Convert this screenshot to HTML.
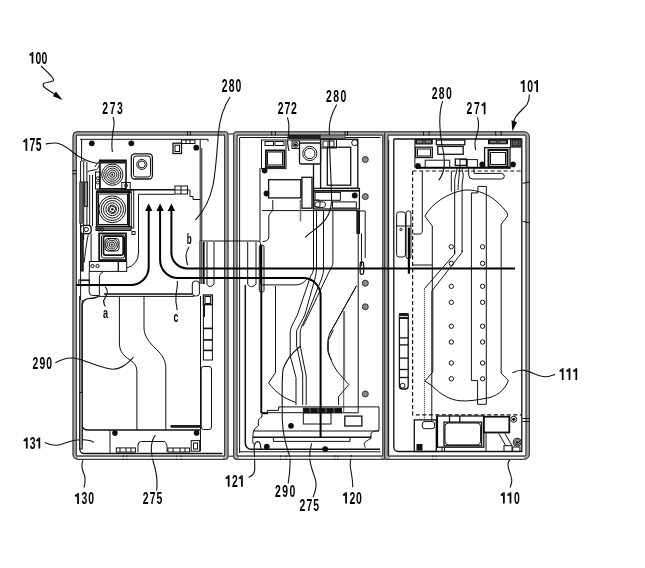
<!DOCTYPE html>
<html><head><meta charset="utf-8"><style>
html,body{margin:0;padding:0;background:#fff;}
svg{display:block;}
.t{fill:none;stroke:#111;stroke-width:1;}
.m{fill:none;stroke:#111;stroke-width:1.3;}
.k{fill:none;stroke:#000;stroke-width:2.4;}
.g{fill:none;stroke:#777;stroke-width:0.9;}
.ld{fill:none;stroke:#111;stroke-width:1.1;}
.dash{fill:none;stroke:#111;stroke-width:1.2;stroke-dasharray:4 2.5;}
.lb{font-family:"Liberation Sans",sans-serif;fill:#000;}
</style></head><body>
<svg width="645" height="568" viewBox="0 0 645 568" style="will-change:transform">
<rect width="645" height="568" fill="#fff"/>
<path d="M76.5,133.45000000000002 H226.0 A0.3500000000000001,0.3500000000000001 0 0 1 226.35,133.8 V457.3 A0.3500000000000001,0.3500000000000001 0 0 1 226.0,457.65000000000003 H77.5 A2.85,2.85 0 0 1 74.65,454.8 V135.3 A1.85,1.85 0 0 1 76.5,133.45000000000002 Z" fill="none" stroke="#ababab" stroke-width="4.3"/>
<path d="M77.0,131.8 H225.5 A2.5,2.5 0 0 1 228.0,134.3 V456.8 A2.5,2.5 0 0 1 225.5,459.3 H78.0 A5,5 0 0 1 73.0,454.3 V135.8 A4,4 0 0 1 77.0,131.8 Z" fill="none" stroke="#222" stroke-width="1"/>
<path d="M76.3,135.10000000000002 H224.7 V456.0 H77.0 A0.7000000000000002,0.7000000000000002 0 0 1 76.3,455.3 V135.10000000000002 Z" fill="none" stroke="#222" stroke-width="1"/>
<path d="M235.7,133.45000000000002 H384.45000000000005 V457.65000000000003 H235.7 A0.3500000000000001,0.3500000000000001 0 0 1 235.35,457.3 V133.8 A0.3500000000000001,0.3500000000000001 0 0 1 235.7,133.45000000000002 Z" fill="none" stroke="#ababab" stroke-width="4.3"/>
<path d="M236.2,131.8 H385.6 A0.5,0.5 0 0 1 386.1,132.3 V458.8 A0.5,0.5 0 0 1 385.6,459.3 H236.2 A2.5,2.5 0 0 1 233.7,456.8 V134.3 A2.5,2.5 0 0 1 236.2,131.8 Z" fill="none" stroke="#222" stroke-width="1"/>
<path d="M237.0,135.10000000000002 H382.8 V456.0 H237.0 V135.10000000000002 Z" fill="none" stroke="#222" stroke-width="1"/>
<path d="M386.34999999999997,133.45000000000002 H524.8 A2.85,2.85 0 0 1 527.65,136.3 V454.8 A2.85,2.85 0 0 1 524.8,457.65000000000003 H386.34999999999997 V133.45000000000002 Z" fill="none" stroke="#ababab" stroke-width="4.3"/>
<path d="M385.2,131.8 H524.3 A5,5 0 0 1 529.3,136.8 V454.3 A5,5 0 0 1 524.3,459.3 H385.2 A0.5,0.5 0 0 1 384.7,458.8 V132.3 A0.5,0.5 0 0 1 385.2,131.8 Z" fill="none" stroke="#222" stroke-width="1"/>
<path d="M388.0,135.10000000000002 H525.3 A0.7000000000000002,0.7000000000000002 0 0 1 526.0,135.8 V455.3 A0.7000000000000002,0.7000000000000002 0 0 1 525.3,456.0 H388.0 V135.10000000000002 Z" fill="none" stroke="#222" stroke-width="1"/>
<line x1="228.5" y1="134" x2="233.2" y2="134" class="t" />
<line x1="228.5" y1="456.2" x2="233.2" y2="456.2" class="t" />
<path d="M80,139.3 H208 V141.5" class="t" />
<path d="M239.6,137.5 V453 M239.6,137.5 H380.5" class="t" />
<path d="M245.3,285 V443.3 a6,6 0 0 0 6,6 H380" class="m" style="stroke-width:1.5"/>
<path d="M393.8,139 H521.8 V452 M393.8,139 V447 a4.5,4.5 0 0 0 4.5,4.5 H521.8" class="m" />
<path d="M31.60,52.00 H33.35 V63.60 H31.60 Z M31.80,52.00 L29.20,54.40 L29.20,55.30 L31.80,55.90 Z" fill="#000"/>
<text class="lb" text-anchor="middle" transform="translate(38.29,63.60) scale(0.629,1)" font-weight="bold" font-size="16.57">0</text>
<text class="lb" text-anchor="middle" transform="translate(44.40,63.60) scale(0.629,1)" font-weight="bold" font-size="16.57">0</text>
<text class="lb" text-anchor="middle" transform="translate(105.25,113.80) scale(0.608,1)" font-weight="bold" font-size="17.14">2</text>
<text class="lb" text-anchor="middle" transform="translate(112.53,113.80) scale(0.608,1)" font-weight="bold" font-size="17.14">7</text>
<text class="lb" text-anchor="middle" transform="translate(119.80,113.80) scale(0.608,1)" font-weight="bold" font-size="17.14">3</text>
<text class="lb" text-anchor="middle" transform="translate(224.60,92.20) scale(0.598,1)" font-weight="bold" font-size="17.43">2</text>
<text class="lb" text-anchor="middle" transform="translate(231.55,92.20) scale(0.598,1)" font-weight="bold" font-size="17.43">8</text>
<text class="lb" text-anchor="middle" transform="translate(238.50,92.20) scale(0.598,1)" font-weight="bold" font-size="17.43">0</text>
<text class="lb" text-anchor="middle" transform="translate(280.60,113.80) scale(0.640,1)" font-weight="bold" font-size="16.29">2</text>
<text class="lb" text-anchor="middle" transform="translate(287.30,113.80) scale(0.640,1)" font-weight="bold" font-size="16.29">7</text>
<text class="lb" text-anchor="middle" transform="translate(294.00,113.80) scale(0.640,1)" font-weight="bold" font-size="16.29">2</text>
<text class="lb" text-anchor="middle" transform="translate(329.00,101.90) scale(0.645,1)" font-weight="bold" font-size="16.14">2</text>
<text class="lb" text-anchor="middle" transform="translate(336.25,101.90) scale(0.645,1)" font-weight="bold" font-size="16.14">8</text>
<text class="lb" text-anchor="middle" transform="translate(343.50,101.90) scale(0.645,1)" font-weight="bold" font-size="16.14">0</text>
<text class="lb" text-anchor="middle" transform="translate(434.60,98.80) scale(0.623,1)" font-weight="bold" font-size="16.71">2</text>
<text class="lb" text-anchor="middle" transform="translate(441.70,98.80) scale(0.623,1)" font-weight="bold" font-size="16.71">8</text>
<text class="lb" text-anchor="middle" transform="translate(448.80,98.80) scale(0.623,1)" font-weight="bold" font-size="16.71">0</text>
<text class="lb" text-anchor="middle" transform="translate(469.30,114.20) scale(0.613,1)" font-weight="bold" font-size="17.00">2</text>
<text class="lb" text-anchor="middle" transform="translate(476.81,114.20) scale(0.613,1)" font-weight="bold" font-size="17.00">7</text>
<path d="M483.75,102.30 H485.50 V114.20 H483.75 Z M483.95,102.30 L481.35,104.70 L481.35,105.60 L483.95,106.20 Z" fill="#000"/>
<path d="M522.80,80.00 H524.55 V92.00 H522.80 Z M523.00,80.00 L520.40,82.40 L520.40,83.30 L523.00,83.90 Z" fill="#000"/>
<text class="lb" text-anchor="middle" transform="translate(530.10,92.00) scale(0.608,1)" font-weight="bold" font-size="17.14">0</text>
<path d="M536.25,80.00 H538.00 V92.00 H536.25 Z M536.45,80.00 L533.85,82.40 L533.85,83.30 L536.45,83.90 Z" fill="#000"/>
<path d="M25.50,138.60 H27.25 V150.80 H25.50 Z M25.70,138.60 L23.10,141.00 L23.10,141.90 L25.70,142.50 Z" fill="#000"/>
<text class="lb" text-anchor="middle" transform="translate(32.39,150.80) scale(0.598,1)" font-weight="bold" font-size="17.43">7</text>
<text class="lb" text-anchor="middle" transform="translate(38.70,150.80) scale(0.598,1)" font-weight="bold" font-size="17.43">5</text>
<text class="lb" text-anchor="middle" transform="translate(35.50,369.00) scale(0.663,1)" font-weight="bold" font-size="15.71">2</text>
<text class="lb" text-anchor="middle" transform="translate(42.30,369.00) scale(0.663,1)" font-weight="bold" font-size="15.71">9</text>
<text class="lb" text-anchor="middle" transform="translate(49.10,369.00) scale(0.663,1)" font-weight="bold" font-size="15.71">0</text>
<path d="M561.80,368.20 H563.55 V380.00 H561.80 Z M562.00,368.20 L559.40,370.60 L559.40,371.50 L562.00,372.10 Z" fill="#000"/>
<path d="M568.62,368.20 H570.38 V380.00 H568.62 Z M568.83,368.20 L566.23,370.60 L566.23,371.50 L568.83,372.10 Z" fill="#000"/>
<path d="M575.45,368.20 H577.20 V380.00 H575.45 Z M575.65,368.20 L573.05,370.60 L573.05,371.50 L575.65,372.10 Z" fill="#000"/>
<path d="M25.90,437.60 H27.65 V448.60 H25.90 Z M26.10,437.60 L23.50,440.00 L23.50,440.90 L26.10,441.50 Z" fill="#000"/>
<text class="lb" text-anchor="middle" transform="translate(32.75,448.60) scale(0.663,1)" font-weight="bold" font-size="15.71">3</text>
<path d="M38.45,437.60 H40.20 V448.60 H38.45 Z M38.65,437.60 L36.05,440.00 L36.05,440.90 L38.65,441.50 Z" fill="#000"/>
<path d="M77.20,493.00 H78.95 V504.00 H77.20 Z M77.40,493.00 L74.80,495.40 L74.80,496.30 L77.40,496.90 Z" fill="#000"/>
<text class="lb" text-anchor="middle" transform="translate(84.44,504.00) scale(0.663,1)" font-weight="bold" font-size="15.71">3</text>
<text class="lb" text-anchor="middle" transform="translate(91.10,504.00) scale(0.663,1)" font-weight="bold" font-size="15.71">0</text>
<text class="lb" text-anchor="middle" transform="translate(145.60,504.00) scale(0.663,1)" font-weight="bold" font-size="15.71">2</text>
<text class="lb" text-anchor="middle" transform="translate(152.55,504.00) scale(0.663,1)" font-weight="bold" font-size="15.71">7</text>
<text class="lb" text-anchor="middle" transform="translate(159.50,504.00) scale(0.663,1)" font-weight="bold" font-size="15.71">5</text>
<path d="M227.80,475.30 H229.55 V486.70 H227.80 Z M228.00,475.30 L225.40,477.70 L225.40,478.60 L228.00,479.20 Z" fill="#000"/>
<text class="lb" text-anchor="middle" transform="translate(235.00,486.70) scale(0.640,1)" font-weight="bold" font-size="16.29">2</text>
<path d="M241.05,475.30 H242.80 V486.70 H241.05 Z M241.25,475.30 L238.65,477.70 L238.65,478.60 L241.25,479.20 Z" fill="#000"/>
<text class="lb" text-anchor="middle" transform="translate(277.80,497.40) scale(0.640,1)" font-weight="bold" font-size="16.29">2</text>
<text class="lb" text-anchor="middle" transform="translate(285.10,497.40) scale(0.640,1)" font-weight="bold" font-size="16.29">9</text>
<text class="lb" text-anchor="middle" transform="translate(292.40,497.40) scale(0.640,1)" font-weight="bold" font-size="16.29">0</text>
<text class="lb" text-anchor="middle" transform="translate(302.40,511.00) scale(0.645,1)" font-weight="bold" font-size="16.14">2</text>
<text class="lb" text-anchor="middle" transform="translate(309.30,511.00) scale(0.645,1)" font-weight="bold" font-size="16.14">7</text>
<text class="lb" text-anchor="middle" transform="translate(316.20,511.00) scale(0.645,1)" font-weight="bold" font-size="16.14">5</text>
<path d="M345.20,492.20 H346.95 V503.60 H345.20 Z M345.40,492.20 L342.80,494.60 L342.80,495.50 L345.40,496.10 Z" fill="#000"/>
<text class="lb" text-anchor="middle" transform="translate(352.34,503.60) scale(0.640,1)" font-weight="bold" font-size="16.29">2</text>
<text class="lb" text-anchor="middle" transform="translate(358.90,503.60) scale(0.640,1)" font-weight="bold" font-size="16.29">0</text>
<path d="M503.00,492.20 H504.75 V503.50 H503.00 Z M503.20,492.20 L500.60,494.60 L500.60,495.50 L503.20,496.10 Z" fill="#000"/>
<path d="M509.61,492.20 H511.36 V503.50 H509.61 Z M509.81,492.20 L507.21,494.60 L507.21,495.50 L509.81,496.10 Z" fill="#000"/>
<text class="lb" text-anchor="middle" transform="translate(516.80,503.50) scale(0.645,1)" font-weight="bold" font-size="16.14">0</text>
<path d="M41,66 C45,70 50,74 52,77 C53.5,79 54,80.5 53,81 C50,82 46,82.5 44,83.3 C42.5,84.5 43,87 45.4,88 C48,90 52,92.5 56,95" class="ld" style="stroke-width:1.2"/>
<path d="M62.6,99.9 L55.9,91.6 L53,96.2 Z" fill="#000"/>
<path d="M113,117 C115,122 114,127 113,131 C112,139 111,146 112.5,152" class="ld" />
<path d="M230.2,96.7 C224,106 220,118 218.5,132 C217,150 216,170 213,185 C210,200 203,212 195.5,219.8" class="ld" />
<path d="M287.4,117.4 C290,125 289,132 288,138 C287,143 288,147 289,151" class="ld" />
<path d="M336.7,104.5 C332,113 329.5,120 329.3,128 C329.5,160 332,190 331.5,202 C331,210 328,218 321.4,224 C316,229 310,233 305.1,237.3" class="ld" />
<path d="M442.6,101.2 C438,115 440,135 443,150 C446,165 443,175 438.6,180.5" class="ld" />
<path d="M477.5,117.4 C480,125 478,132 476,138 C474,143 475,147 475.8,150" class="ld" />
<path d="M529.4,94.5 C529.5,99 528.5,102 527,104.5 C524,108.5 519,112 516,116.5 C514.5,118.5 514,120 513.9,122" class="ld" style="stroke-width:1.2"/>
<path d="M511.5,120.3 L517,122.3 L512.4,131.3 Z" fill="#000"/>
<path d="M45.7,144 C52,143 56,142 60,144 C68,147 72,152 78,156 C85,160 92,163 98.7,163.5" class="ld" />
<path d="M55.3,362.7 C62,359 67,357.5 73,358 C85,359 100,369 113,369.2 C122,369 128,363 133.5,357.1" class="ld" />
<path d="M512.4,372.8 C516,371 520,370 524,370.4 C532,371.5 538,377 546.5,376.7 C550,376.5 553,375 555,374.4" class="ld" />
<path d="M44.8,442.4 C49,444.5 52,445.3 56,445.2 C63,445 70,440.5 77,440 C84,439.3 90,439.5 93.9,442.4" class="ld" />
<path d="M82.8,460.4 C81,466 82,470 84,474 C86,479 85,484 83.9,487.6" class="ld" />
<path d="M156.6,490.8 C157.5,484 157,476 155,468 C152.5,460 151,452 151.4,446.5 C151.8,441 153.5,437.5 155.4,435.1" class="ld" />
<path d="M248.5,477.3 C252,476 254.5,473 254.7,469.9 C255,462 254,452 254.2,447 C254.5,443 256.5,441.5 258.2,441.6 C260,441.8 260.8,445 260.8,449.3" class="ld" />
<path d="M288.2,483.5 C289.5,476 290.2,468 290.2,458" class="ld" />
<path d="M313,497.2 C316,490 316.5,483 315.5,479.8 C313,472 310,465 309.7,458 C309.5,452 310.5,447 311.6,443.3" class="ld" />
<path d="M352.7,487.3 C353,480 351,472 350.2,466 C350,462 350.8,458 351.5,455" class="ld" />
<path d="M510.1,487.5 C511.5,484 512,482 511.7,479.6 C511,474 508,470 508,464.8 C508,462 509,460.5 510.1,460" class="ld" />
<circle cx="91.8" cy="143.3" r="2.9" fill="#111"/>
<circle cx="131.3" cy="143.3" r="2.9" fill="#111"/>
<circle cx="196.3" cy="147.7" r="2.9" fill="#111"/>
<line x1="81.6" y1="139" x2="81.6" y2="161" class="t" />
<path d="M81.6,161 H85.8" class="t" />
<line x1="72.6" y1="170.6" x2="76.6" y2="170.6" class="t" />
<line x1="72.6" y1="173.8" x2="76.6" y2="173.8" class="t" />
<line x1="80.6" y1="161" x2="80.6" y2="300" class="t" />
<line x1="83.7" y1="162" x2="83.7" y2="240" class="t" />
<line x1="86.9" y1="162" x2="86.9" y2="226" class="t" />
<rect x="79.9" y="182" width="2.30" height="41.20" class="t" style="fill:#ccc"/>
<rect x="84.3" y="182" width="3.30" height="24.30" class="t" style="fill:#ccc"/>
<line x1="79.9" y1="183" x2="82.2" y2="183" class="t" style="stroke-width:0.6"/>
<line x1="79.9" y1="185" x2="82.2" y2="185" class="t" style="stroke-width:0.6"/>
<line x1="79.9" y1="187" x2="82.2" y2="187" class="t" style="stroke-width:0.6"/>
<line x1="79.9" y1="189" x2="82.2" y2="189" class="t" style="stroke-width:0.6"/>
<line x1="79.9" y1="191" x2="82.2" y2="191" class="t" style="stroke-width:0.6"/>
<line x1="79.9" y1="193" x2="82.2" y2="193" class="t" style="stroke-width:0.6"/>
<line x1="79.9" y1="195" x2="82.2" y2="195" class="t" style="stroke-width:0.6"/>
<line x1="79.9" y1="197" x2="82.2" y2="197" class="t" style="stroke-width:0.6"/>
<line x1="79.9" y1="199" x2="82.2" y2="199" class="t" style="stroke-width:0.6"/>
<line x1="79.9" y1="201" x2="82.2" y2="201" class="t" style="stroke-width:0.6"/>
<line x1="79.9" y1="203" x2="82.2" y2="203" class="t" style="stroke-width:0.6"/>
<line x1="79.9" y1="205" x2="82.2" y2="205" class="t" style="stroke-width:0.6"/>
<line x1="79.9" y1="207" x2="82.2" y2="207" class="t" style="stroke-width:0.6"/>
<line x1="79.9" y1="209" x2="82.2" y2="209" class="t" style="stroke-width:0.6"/>
<line x1="79.9" y1="211" x2="82.2" y2="211" class="t" style="stroke-width:0.6"/>
<line x1="79.9" y1="213" x2="82.2" y2="213" class="t" style="stroke-width:0.6"/>
<line x1="79.9" y1="215" x2="82.2" y2="215" class="t" style="stroke-width:0.6"/>
<line x1="79.9" y1="217" x2="82.2" y2="217" class="t" style="stroke-width:0.6"/>
<line x1="79.9" y1="219" x2="82.2" y2="219" class="t" style="stroke-width:0.6"/>
<line x1="79.9" y1="221" x2="82.2" y2="221" class="t" style="stroke-width:0.6"/>
<line x1="84.3" y1="183" x2="87.6" y2="183" class="t" style="stroke-width:0.6"/>
<line x1="84.3" y1="185" x2="87.6" y2="185" class="t" style="stroke-width:0.6"/>
<line x1="84.3" y1="187" x2="87.6" y2="187" class="t" style="stroke-width:0.6"/>
<line x1="84.3" y1="189" x2="87.6" y2="189" class="t" style="stroke-width:0.6"/>
<line x1="84.3" y1="191" x2="87.6" y2="191" class="t" style="stroke-width:0.6"/>
<line x1="84.3" y1="193" x2="87.6" y2="193" class="t" style="stroke-width:0.6"/>
<line x1="84.3" y1="195" x2="87.6" y2="195" class="t" style="stroke-width:0.6"/>
<line x1="84.3" y1="197" x2="87.6" y2="197" class="t" style="stroke-width:0.6"/>
<line x1="84.3" y1="199" x2="87.6" y2="199" class="t" style="stroke-width:0.6"/>
<line x1="84.3" y1="201" x2="87.6" y2="201" class="t" style="stroke-width:0.6"/>
<line x1="84.3" y1="203" x2="87.6" y2="203" class="t" style="stroke-width:0.6"/>
<line x1="84.3" y1="205" x2="87.6" y2="205" class="t" style="stroke-width:0.6"/>
<line x1="89.7" y1="174.8" x2="89.7" y2="226" class="t" />
<line x1="92.5" y1="174.8" x2="92.5" y2="226" class="t" />
<rect x="80.6" y="225.3" width="10.50" height="8.40" rx="2.5" class="m" />
<circle cx="86.2" cy="229.5" r="2.2" class="t" />
<rect x="80.6" y="233.7" width="2.60" height="37.30" class="t" style="fill:#333"/>
<path d="M88.3,234.4 C86,245 85,255 84.1,262.6" class="t" />
<line x1="91.1" y1="234" x2="91.1" y2="261.2" class="t" />
<path d="M87.4,171.7 C90,170.5 94,170 96.4,169.6 C98,168.5 99,166.5 99.6,164.3" class="t" />
<path d="M95,167 C97,163 99,161 101,160" class="t" />
<circle cx="97.8" cy="178.2" r="1.5" class="t" />
<circle cx="97.8" cy="182.5" r="1.5" class="t" />
<rect x="95.5" y="172" width="4.50" height="17.00" class="t" />
<rect x="99.9" y="160.3" width="26.10" height="28.50" class="m" style="stroke-width:1.6"/>
<rect x="101" y="161" width="24.00" height="2.00" class="t" style="fill:#333"/>
<circle cx="112.3" cy="174.7" r="10.6" class="t" />
<circle cx="112.3" cy="174.7" r="8.6" class="t" />
<circle cx="112.3" cy="174.7" r="6.6" class="t" />
<circle cx="112.3" cy="174.7" r="4.6" class="t" />
<circle cx="112.3" cy="174.7" r="2.6" class="t" />
<circle cx="112.3" cy="174.7" r="1.1" fill="#111"/>
<rect x="121.8" y="182.5" width="8.40" height="7.00" class="t" />
<circle cx="126" cy="185.5" r="1.5" class="t" />
<rect x="97" y="190" width="34.00" height="2.50" class="t" style="fill:#555"/>
<rect x="96.8" y="192" width="32.20" height="34.50" class="m" style="stroke-width:1.8"/>
<rect x="98.5" y="194" width="29.00" height="30.50" class="t" />
<circle cx="112.3" cy="209.3" r="13.4" class="t" />
<circle cx="112.3" cy="209.3" r="11.2" class="t" />
<circle cx="112.3" cy="209.3" r="8.8" class="t" />
<circle cx="112.3" cy="209.3" r="6.4" class="t" />
<circle cx="112.3" cy="209.3" r="4.2" class="t" />
<polygon points="109.5,206.5 115.1,206.5 115.1,212.1 109.5,212.1" fill="none" stroke="#111" stroke-width="0.9" transform="rotate(22 112.3 209.3)"/>
<circle cx="112.3" cy="209.3" r="1.2" fill="#111"/>
<rect x="129" y="190" width="4.70" height="38.00" class="t" />
<line x1="131.3" y1="192" x2="131.3" y2="228" class="t" />
<rect x="96" y="226.5" width="35.00" height="4.00" class="t" style="fill:#666"/>
<circle cx="99" cy="229.5" r="1.6" class="t" />
<circle cx="102" cy="229.5" r="1.6" class="t" />
<rect x="99.2" y="233.4" width="26.80" height="26.70" class="m" style="stroke-width:1.8"/>
<rect x="101.5" y="235" width="23.00" height="23.00" rx="2" class="t" />
<rect x="103.5" y="236.2" width="19.70" height="19.00" rx="2" class="m" style="stroke-width:1.7"/>
<rect x="105" y="238.5" width="14.00" height="12.50" rx="3" class="t" />
<circle cx="111.9" cy="244.6" r="6.2" class="t" />
<circle cx="111.9" cy="244.6" r="4.4" class="t" />
<circle cx="111.9" cy="244.6" r="2.6" class="t" />
<circle cx="111.9" cy="244.6" r="1.1" fill="#111"/>
<rect x="132" y="231.5" width="3.00" height="3.00" class="t" />
<rect x="89.4" y="261.5" width="28.90" height="9.90" class="t" />
<rect x="118.3" y="261.5" width="8.40" height="9.90" class="t" />
<circle cx="92.5" cy="266" r="1.6" class="t" />
<circle cx="97.5" cy="266" r="1.6" class="t" />
<rect x="131.3" y="153.9" width="21.10" height="25.10" rx="3.5" class="m" />
<rect x="133.5" y="156" width="17.00" height="21.00" rx="2.5" class="t" />
<circle cx="141.8" cy="164.4" r="5" class="t" />
<circle cx="141.8" cy="164.4" r="3.5" class="t" />
<rect x="173" y="143.2" width="8.50" height="10.30" class="m" />
<rect x="175" y="145.2" width="4.50" height="6.30" class="t" />
<rect x="181.5" y="140" width="13.50" height="3.50" class="t" />
<line x1="186" y1="140" x2="186" y2="143.5" class="t" />
<line x1="190" y1="140" x2="190" y2="143.5" class="t" />
<line x1="187.5" y1="131.3" x2="187.5" y2="135.6" class="t" />
<line x1="190.4" y1="131.3" x2="190.4" y2="135.6" class="t" />
<path d="M200.2,140 V241" class="t" />
<path d="M201.8,148 V241" class="t" />
<path d="M130,189.75 H174.9" class="m" />
<rect x="174.9" y="186" width="12.60" height="8.00" class="t" />
<line x1="174.9" y1="190" x2="187.5" y2="190" class="t" />
<line x1="181" y1="186" x2="181" y2="194" class="t" />
<path d="M187.5,190 H190 V196.5 H193 V199.5 H200.2" class="t" />
<path d="M138.5,194.3 H174.5 M138.5,194.3 V253 a15,15 0 0 1 -12,15" class="t" />
<path d="M145.0,211 L148.7,203.5 L152.39999999999998,211 Z" fill="#000"/>
<path d="M156.4,211 L160.1,203.5 L163.79999999999998,211 Z" fill="#000"/>
<path d="M167.70000000000002,211 L171.4,203.5 L175.1,211 Z" fill="#000"/>
<path d="M171.4,210 V252.5 a16,16 0 0 0 16,16 H515" class="k" style="stroke-width:2"/>
<path d="M160.1,210 V260 a18,18 0 0 0 18,18 H303 a17.6,17.6 0 0 1 17.6,17.6 V437.5" class="k" style="stroke-width:2"/>
<path d="M148.7,210 V267 a18,18 0 0 1 -18,18 H76" class="k" style="stroke-width:2"/>
<text class="lb" transform="translate(103.03208333333332,318.1) scale(0.588,1)" font-weight="bold" font-size="15.47">a</text>
<text class="lb" transform="translate(186.79125000000002,243.6) scale(0.55,1)" font-weight="bold" font-size="14.8">b</text>
<text class="lb" transform="translate(173.44761904761904,322.1) scale(0.571,1)" font-weight="bold" font-size="15.47">c</text>
<path d="M105.2,306.6 C103.5,303 103.5,300 104.3,299.6 C106,296 108,293 107.1,290.4 C106.5,288.5 105.5,287.5 105,286.5" class="ld" />
<path d="M187.5,265 C186.5,261 186.2,258 186,255.5 C186.2,252 187.8,249 189,247" class="ld" />
<path d="M177.2,310.2 C176,305 175.5,300 176,295 C176.5,290 178,285 177.2,281" class="ld" />
<line x1="80" y1="280.6" x2="89.2" y2="280.6" class="t" />
<rect x="78.8" y="279.9" width="10.60" height="4.90" class="t" />
<path d="M89.2,271.4 V292 a3.5,3.5 0 0 0 3.5,3.5 H99.4" class="t" />
<path d="M103.2,271.8 C100.5,273 99.4,275 99.4,278 V295.4" class="t" />
<path d="M98.3,296.4 C96,298 93,298.3 90,298.4 C85.5,298.6 82.1,301 82.1,306 V425 a5,5 0 0 0 5,5 H200.5" class="m" />
<path d="M104,294 H192.3" class="m" style="stroke-width:1.7"/>
<line x1="98.3" y1="296.4" x2="194" y2="296.4" class="t" />
<rect x="192.3" y="281" width="7.10" height="15.00" rx="3" class="t" />
<path d="M119.4,296 V343 C119.4,352 124,356 130,360 C134.5,363 136.9,366 136.9,372 V430" class="t" />
<path d="M144,296 V328 C144,338 152,345 159,352 C163.5,357 165.8,362 165.8,368 V429.5" class="t" />
<rect x="171" y="425.6" width="29.50" height="1.60" class="t" style="fill:#222"/>
<line x1="200.5" y1="296" x2="200.5" y2="451.2" class="t" />
<rect x="203.4" y="295" width="9.00" height="9.60" class="m" />
<rect x="205" y="296.5" width="5.60" height="7.00" class="t" />
<rect x="203.4" y="304.6" width="9.00" height="55.40" class="t" />
<line x1="204.2" y1="304.6" x2="204.2" y2="317" class="m" style="stroke-width:1.6"/>
<line x1="203.4" y1="328.4" x2="212.4" y2="328.4" class="m" style="stroke-width:1.6"/>
<line x1="203.4" y1="339.9" x2="212.4" y2="339.9" class="m" style="stroke-width:1.6"/>
<line x1="203.4" y1="350.4" x2="212.4" y2="350.4" class="m" style="stroke-width:1.6"/>
<rect x="201.2" y="366.5" width="10.30" height="63.00" rx="2.5" class="t" />
<line x1="110" y1="430.3" x2="110" y2="452.8" class="t" />
<circle cx="114.9" cy="433.1" r="2.8" fill="#111"/>
<rect x="116.3" y="447.9" width="19.10" height="4.20" class="t" />
<line x1="120" y1="448" x2="120" y2="452" class="t" />
<line x1="126" y1="448" x2="126" y2="452" class="t" />
<line x1="131" y1="448" x2="131" y2="452" class="t" />
<path d="M138,452 V445 a3.5,3.5 0 0 1 3.5,-3.5 H164.8 C166,443 167,445 167.1,446.5 V452" class="t" />
<rect x="167.9" y="448" width="21.70" height="4.00" class="t" />
<line x1="173" y1="448" x2="173" y2="452" class="t" />
<line x1="180" y1="448" x2="180" y2="452" class="t" />
<line x1="185" y1="448" x2="185" y2="452" class="t" />
<rect x="191.2" y="440.6" width="8.50" height="10.60" class="t" />
<rect x="193.5" y="443" width="4.00" height="6.00" class="t" />
<circle cx="196.6" cy="432.9" r="2.8" fill="#111"/>
<path d="M79.8,296 V449 a4.5,4.5 0 0 0 4.5,4.5 H222.3" class="m" />
<line x1="123.4" y1="455.5" x2="123.4" y2="459.8" class="t" />
<line x1="126.9" y1="455.5" x2="126.9" y2="459.8" class="t" />
<line x1="176.4" y1="455.5" x2="176.4" y2="459.8" class="t" />
<line x1="181.1" y1="455.5" x2="181.1" y2="459.8" class="t" />
<path d="M82.2,300 V445" class="t" />
<rect x="79.8" y="392.6" width="2.40" height="56.40" class="t" style="fill:#bbb"/>
<path d="M199.9,284.2 V241 H258 a2.5,2.5 0 0 1 2.5,2.5 V284" class="t" />
<line x1="203.6" y1="242" x2="203.6" y2="284" class="k" style="stroke-width:2"/>
<line x1="201.2" y1="242" x2="201.2" y2="284" class="t" />
<line x1="207" y1="242" x2="207" y2="284" class="t" />
<line x1="214" y1="242" x2="214" y2="284" class="t" />
<line x1="247.7" y1="242" x2="247.7" y2="284" class="t" />
<line x1="256" y1="242" x2="256" y2="284" class="t" />
<rect x="259.3" y="245.2" width="4.70" height="46.80" rx="1.5" class="t" />
<path d="M207,284 C208,287 211,287.5 214,284" class="t" />
<path d="M247.7,284 C249,287.5 254,287.5 256,284" class="t" />
<rect x="320" y="135.3" width="25.00" height="3.30" class="t" style="fill:#888;stroke:#555"/>
<rect x="289" y="135.3" width="31.00" height="3.50" class="t" style="fill:#222"/>
<line x1="288.4" y1="140" x2="320" y2="140" class="t" />
<line x1="271.7" y1="131.3" x2="271.7" y2="135.5" class="t" />
<line x1="275.4" y1="131.3" x2="275.4" y2="135.5" class="t" />
<line x1="345" y1="131.3" x2="345" y2="135.5" class="t" />
<line x1="347.5" y1="131.3" x2="347.5" y2="135.5" class="t" />
<rect x="261.5" y="140" width="24.50" height="28.60" class="t" />
<rect x="265.9" y="150.4" width="18.50" height="16.60" class="m" style="stroke-width:1.8"/>
<rect x="267.5" y="152" width="15.00" height="13.00" class="t" />
<rect x="265" y="141.5" width="8.50" height="4.00" class="t" />
<rect x="275" y="141.5" width="9.00" height="4.00" class="t" />
<circle cx="264.6" cy="170.6" r="2.9" fill="#111"/>
<circle cx="266.5" cy="193.5" r="2.9" fill="#111"/>
<line x1="260" y1="168" x2="260" y2="241.2" class="t" />
<path d="M272.8,200 V209.5 C272.8,212 269,213 268.8,216 V237 C268.8,240 266,241.5 262.5,241.5" class="t" />
<rect x="268.6" y="179.7" width="32.20" height="18.20" class="m" />
<rect x="301.9" y="177.3" width="10.10" height="30.90" class="m" />
<line x1="262" y1="210.6" x2="357" y2="210.6" class="t" />
<circle cx="295.5" cy="144.8" r="2.6" class="t" />
<circle cx="295.5" cy="144.8" r="1.6" fill="#111"/>
<rect x="292" y="141" width="7.50" height="7.50" class="t" />
<rect x="299.5" y="143" width="21.10" height="21.00" rx="1.5" class="m" />
<circle cx="309.8" cy="153.5" r="7.1" class="t" />
<circle cx="309.8" cy="153.5" r="5.2" class="t" />
<rect x="320.6" y="139.3" width="37.20" height="49.10" class="m" />
<rect x="320.6" y="139.3" width="15.90" height="8.70" class="t" />
<rect x="323" y="141" width="11.00" height="6.00" class="t" />
<line x1="328" y1="141" x2="328" y2="147" class="t" />
<rect x="327.3" y="147.2" width="23.40" height="38.00" class="m" />
<circle cx="354.7" cy="142.7" r="3" class="t" />
<circle cx="365.3" cy="159.5" r="3" fill="#8a8a8a" stroke="#333" stroke-width="1"/>
<circle cx="365.3" cy="196.6" r="3" fill="#8a8a8a" stroke="#333" stroke-width="1"/>
<circle cx="365.3" cy="283.2" r="3" fill="#8a8a8a" stroke="#333" stroke-width="1"/>
<circle cx="365.3" cy="306.8" r="3" fill="#8a8a8a" stroke="#333" stroke-width="1"/>
<circle cx="365.3" cy="393.9" r="3" fill="#8a8a8a" stroke="#333" stroke-width="1"/>
<circle cx="354.7" cy="195.5" r="2.9" fill="#111"/>
<rect x="313.5" y="188.4" width="45.90" height="20.60" class="m" />
<line x1="313.5" y1="190.8" x2="359.4" y2="190.8" class="m" style="stroke-width:1.8"/>
<rect x="315" y="192.4" width="25.40" height="7.90" class="t" />
<rect x="315" y="201.9" width="10.40" height="5.50" rx="2" class="t" />
<rect x="332.5" y="201.9" width="23.80" height="6.10" class="t" />
<line x1="313.5" y1="163.8" x2="313.5" y2="209" class="m" />
<line x1="300.5" y1="200" x2="300.5" y2="221.4" class="g" style="stroke-width:1.6"/>
<rect x="314" y="200" width="6.00" height="7.00" rx="1.5" class="t" />
<path d="M356.9,211 H365.2 V258" class="t" />
<rect x="356.9" y="211" width="2.60" height="22.40" class="t" style="fill:#333"/>
<line x1="361.5" y1="233.4" x2="361.5" y2="266" class="t" />
<rect x="360.2" y="262" width="3.40" height="12.40" rx="1.7" class="m" />
<path d="M313.5,210.4 V268 C313.5,271 312.5,273.5 310.6,276.1 L297.4,315 L293.4,322.8 C291,327 290.2,330 290.2,334 V355.6 L296,377.7 V405" class="t" />
<path d="M316.5,210.4 V268 C316.5,272 315.5,276 314.8,279.3 L304.8,315 L296.6,330.7 V345.3 L302.7,374.3 V405" class="t" />
<path d="M323.5,210.4 V270 C323.5,273 322.5,276 321.5,279 L306.9,315 L301.5,327 C300.5,329 300.2,330 300.2,333 V346 L306.2,376 V405" class="t" />
<path d="M332.9,210.4 V262 C332.9,265 331.5,268 329,272 L308.5,315 L303,326" class="t" />
<path d="M356.5,285.8 L330,333 C328.5,336 327.7,340 327.7,345 V349 C327.7,353 329.5,357 331.7,360" class="t" />
<line x1="343.6" y1="311.2" x2="343.6" y2="412" class="g" style="stroke-width:1.3"/>
<path d="M261.8,284.9 H295.2 C301,284.9 305,282 307.5,277.9" class="t" />
<line x1="261.3" y1="245" x2="261.3" y2="413.2" class="k" style="stroke-width:1.9"/>
<line x1="261.8" y1="413.2" x2="268" y2="413.2" class="k" style="stroke-width:2"/>
<path d="M275.5,286 V372.6 L268.6,382.9 C275,392 285,399 296,402.5" class="t" />
<path d="M333.4,330 L328.3,340.2 V350.5 C330,360 334,366 336.9,371 L348.8,384.6 L338.6,396.5 V405" class="t" />
<path d="M356.5,285.8 L330,333" class="t" />
<line x1="344.5" y1="311" x2="344.5" y2="379.5" class="g" style="stroke-width:1.3"/>
<path d="M300.2,346.2 C293,352 286,360 283.1,369.2 C281.5,380 282.3,400 282.3,420 C283,440 288,450 290.2,458" class="ld" />
<line x1="358.2" y1="210" x2="358.2" y2="412.8" class="t" />
<line x1="341.5" y1="412.8" x2="358.2" y2="412.8" class="t" />
<path d="M267.4,413.9 V410.4 H278.6 V406.9 H379 V430.6" class="t" />
<line x1="267.4" y1="412.7" x2="303.4" y2="412.7" class="t" />
<rect x="303.4" y="408.2" width="38.10" height="4.70" class="t" style="fill:#111"/>
<line x1="310" y1="408.2" x2="310" y2="412.9" class="t" style="stroke:#777"/>
<line x1="318" y1="408.2" x2="318" y2="412.9" class="t" style="stroke:#777"/>
<line x1="326" y1="408.2" x2="326" y2="412.9" class="t" style="stroke:#777"/>
<line x1="334" y1="408.2" x2="334" y2="412.9" class="t" style="stroke:#777"/>
<rect x="303.3" y="412.8" width="27.70" height="11.20" class="t" />
<rect x="344.8" y="416.1" width="17.10" height="9.90" class="m" />
<path d="M261.9,413.9 V417 C260,418 258,419 258.4,421.5 V425.8 C257,427 255,428 254,430.1 V431 H379" class="t" />
<path d="M379,430.6 C375,431 371,432 371,433.2 V438.5 C368,440 365,441.5 364,443.7 C364.5,445 365,446.5 365.2,447.7" class="t" />
<path d="M254,430.1 C253,432 252.8,436 252.8,441.9 C253,444 254,445 255,445" class="t" />
<line x1="252.8" y1="437.2" x2="371" y2="437.2" class="m" style="stroke-width:1.6"/>
<path d="M273.4,437.2 V441.4 H350 V437.2" class="t" />
<circle cx="291" cy="425.8" r="2.9" fill="#111"/>
<circle cx="266.8" cy="446.7" r="2.9" fill="#111"/>
<circle cx="325.2" cy="449.1" r="2.9" fill="#111"/>
<line x1="240" y1="451.8" x2="380.5" y2="451.8" class="t" />
<line x1="280.7" y1="455.5" x2="280.7" y2="459.8" class="t" />
<line x1="286.1" y1="455.5" x2="286.1" y2="459.8" class="t" />
<line x1="334.9" y1="455.5" x2="334.9" y2="459.8" class="t" />
<line x1="337.8" y1="455.5" x2="337.8" y2="459.8" class="t" />
<line x1="423.6" y1="131.3" x2="423.6" y2="135.5" class="t" />
<line x1="429.1" y1="131.3" x2="429.1" y2="135.5" class="t" />
<line x1="495.7" y1="131.3" x2="495.7" y2="135.5" class="t" />
<line x1="501.2" y1="131.3" x2="501.2" y2="135.5" class="t" />
<rect x="415.7" y="139.3" width="16.60" height="4.70" class="t" />
<line x1="424" y1="139.3" x2="424" y2="144" class="t" />
<rect x="416.5" y="140" width="6.50" height="3.30" class="t" style="fill:#888"/>
<rect x="425" y="140" width="6.50" height="3.30" class="t" style="fill:#888"/>
<rect x="415.7" y="147.2" width="16.60" height="10.30" class="m" />
<rect x="417.5" y="149" width="13.00" height="7.00" class="t" />
<line x1="414.9" y1="139.3" x2="414.9" y2="167.8" class="t" />
<circle cx="418" cy="165.9" r="2.9" fill="#111"/>
<rect x="425.2" y="160.2" width="24.50" height="7.30" class="t" />
<rect x="436.3" y="140" width="28.50" height="4.80" class="m" />
<rect x="437.8" y="146.4" width="25.40" height="7.90" class="m" />
<rect x="455.3" y="159" width="11.10" height="6.40" class="m" />
<rect x="460" y="159.6" width="7.00" height="7.90" class="t" />
<rect x="467" y="159.6" width="10.40" height="7.90" class="t" />
<line x1="415.7" y1="167.8" x2="510.7" y2="167.8" class="k" style="stroke-width:1.9"/>
<rect x="488.5" y="139.8" width="19.00" height="4.00" class="t" />
<line x1="498" y1="139.8" x2="498" y2="143.8" class="t" />
<rect x="489.5" y="140.4" width="7.50" height="2.80" class="t" style="fill:#888"/>
<rect x="499" y="140.4" width="7.50" height="2.80" class="t" style="fill:#888"/>
<rect x="510.7" y="139" width="9.50" height="8.00" class="m" />
<rect x="512" y="140" width="7.00" height="6.00" class="t" style="fill:#555"/>
<rect x="484.6" y="147.7" width="25.40" height="19.80" class="m" />
<rect x="488.5" y="150" width="19.00" height="16.70" class="m" style="stroke-width:2"/>
<rect x="490.5" y="152.5" width="15.00" height="12.00" class="t" />
<circle cx="482.2" cy="164.4" r="2.8" fill="#111"/>
<circle cx="513.1" cy="164.4" r="2.8" fill="#111"/>
<path d="M412.6,171 H521.8" class="dash" />
<path d="M412.6,171 V414.8 H521.8" class="dash" />
<path d="M468.7,168 V175 a4,4 0 0 0 4,4 H501.5 a2.8,2.8 0 0 0 0,-5.6 H474 V168" class="t" />
<path d="M422.3,171 V231.5 C422.3,233 421.3,234 420,234 H412.8" class="t" />
<line x1="451.3" y1="171" x2="451.3" y2="191.5" class="t" />
<path d="M457,168 C457,172 455,176 454.7,180 V253.9" class="t" />
<path d="M462,168 C462,171 464,174 463,178 C462,182 462,186 462.1,190 V252.3" class="t" />
<path d="M459.5,168 C459.5,176 458,183 458,190" class="t" />
<path d="M432.3,290 V226 L424.9,216.2 C432,203 448,193 464,190.1 C478,189 492,195 503,207.8 C506,211 508,214 507.7,215.2 C507,218 503,221 501.2,224.5 V373 C503,376 507,378 508.4,380.6 C505,390 496,397 486.4,398.2 C478,400 468,401.4 460,400.8 C450,400 440,394 432.8,386.4 L424.9,381 L432.8,372 V290" class="t" />
<path d="M471.4,192.9 H477.9 V186.4 H486.3 V404.3 H477.6 V380.6 H471.4 Z" class="t" />
<circle cx="451.3" cy="246.8" r="2.2" class="t" />
<circle cx="482.6" cy="246.8" r="2.2" class="t" />
<circle cx="451.3" cy="263.4" r="2.2" class="t" />
<circle cx="482.6" cy="263.4" r="2.2" class="t" />
<circle cx="451.3" cy="286.3" r="2.2" class="t" />
<circle cx="482.6" cy="286.3" r="2.2" class="t" />
<circle cx="451.3" cy="302.3" r="2.2" class="t" />
<circle cx="482.6" cy="302.3" r="2.2" class="t" />
<circle cx="451.3" cy="326.2" r="2.2" class="t" />
<circle cx="482.6" cy="326.2" r="2.2" class="t" />
<circle cx="451.3" cy="342" r="2.2" class="t" />
<circle cx="482.6" cy="342" r="2.2" class="t" />
<circle cx="451.3" cy="363" r="2.2" class="t" />
<circle cx="482.6" cy="363" r="2.2" class="t" />
<circle cx="451.3" cy="378.8" r="2.2" class="t" />
<circle cx="482.6" cy="378.8" r="2.2" class="t" />
<path d="M454.7,250 V253.9 L424.4,288.7" class="t" />
<path d="M424.4,288.7 V421.6" class="t" style="stroke:#555;stroke-dasharray:1.3 0.7"/>
<path d="M462.1,250 V252.3 L431.8,291 V421.6" class="t" />
<rect x="422.3" y="421.6" width="12.30" height="7.10" rx="2.5" class="t" />
<rect x="396.6" y="211.9" width="8.80" height="45.10" rx="2.5" class="t" />
<rect x="406.1" y="211" width="4.80" height="47.60" rx="2" class="t" />
<line x1="396.6" y1="226" x2="405.4" y2="226" class="t" />
<line x1="406.1" y1="226" x2="410.9" y2="226" class="t" />
<circle cx="401" cy="229.5" r="1.2" class="t" />
<line x1="408.9" y1="227.7" x2="408.9" y2="273.7" class="k" style="stroke-width:2.2"/>
<line x1="412.5" y1="265" x2="432.3" y2="265" class="t" />
<rect x="399.4" y="313.7" width="8.80" height="75.30" rx="3" class="m" />
<rect x="399.4" y="313.7" width="8.80" height="4.80" class="t" style="fill:#222"/>
<line x1="399.4" y1="316.5" x2="408.2" y2="316.5" class="t" style="stroke:#fff;stroke-width:0.8"/>
<line x1="399.4" y1="337.9" x2="408.2" y2="337.9" class="m" />
<line x1="399.4" y1="344.9" x2="408.2" y2="344.9" class="m" />
<line x1="399.4" y1="358.1" x2="408.2" y2="358.1" class="m" />
<line x1="399.4" y1="369.5" x2="408.2" y2="369.5" class="m" />
<line x1="399.4" y1="377.5" x2="408.2" y2="377.5" class="m" />
<circle cx="402.6" cy="385.7" r="2.4" class="t" />
<rect x="414.3" y="419.9" width="22.00" height="31.60" class="m" />
<rect x="417" y="444.5" width="5.00" height="5.50" class="t" style="fill:#111"/>
<rect x="436.8" y="416" width="47.00" height="31.20" class="m" />
<line x1="437.2" y1="416" x2="437.2" y2="447.2" class="k" style="stroke-width:1.8"/>
<rect x="444" y="422.1" width="37.60" height="23.70" class="m" />
<rect x="445" y="423" width="35.60" height="21.90" rx="3.5" class="t" />
<line x1="449.5" y1="416" x2="449.5" y2="422.1" class="m" />
<line x1="459.8" y1="416" x2="459.8" y2="422.1" class="m" />
<line x1="442" y1="447.2" x2="442" y2="451.5" class="t" />
<line x1="444.5" y1="447.2" x2="444.5" y2="451.5" class="t" />
<rect x="483.8" y="416.7" width="25.50" height="15.80" class="m" style="stroke-width:1.8"/>
<circle cx="513.7" cy="419.3" r="3" class="t" />
<circle cx="513.7" cy="419.3" r="1.6" fill="#111"/>
<circle cx="517.2" cy="442.2" r="4" class="t" />
<circle cx="517.2" cy="442.2" r="2.6" class="t" />
<circle cx="517.2" cy="442.2" r="1.5" fill="#111"/>
<path d="M498.7,433.4 L505.8,445.7 M504.9,433.4 L512,445.7" class="t" />
<rect x="504" y="445.7" width="8.00" height="5.80" class="t" />
<rect x="512.8" y="447" width="7.10" height="4.50" class="t" />
<path d="M486,433 V451.5" class="t" />
<line x1="432.8" y1="455.5" x2="432.8" y2="459.8" class="t" />
<line x1="436.3" y1="455.5" x2="436.3" y2="459.8" class="t" />
<line x1="388.7" y1="140" x2="388.7" y2="455" class="t" />
<line x1="78" y1="457.7" x2="223" y2="457.7" class="t" style="stroke:#fff;stroke-width:1.6"/>
<line x1="239" y1="457.7" x2="381" y2="457.7" class="t" style="stroke:#fff;stroke-width:1.6"/>
<line x1="390" y1="457.7" x2="524" y2="457.7" class="t" style="stroke:#fff;stroke-width:1.6"/>
<path d="M522.5,183.3 L529.8,182" class="t" />
<path d="M522.5,221.3 L529.8,223" class="t" />
<line x1="522.5" y1="418.5" x2="529.8" y2="418.5" class="t" />
<line x1="522.5" y1="421.5" x2="529.8" y2="421.5" class="t" />
</svg>
</body></html>
